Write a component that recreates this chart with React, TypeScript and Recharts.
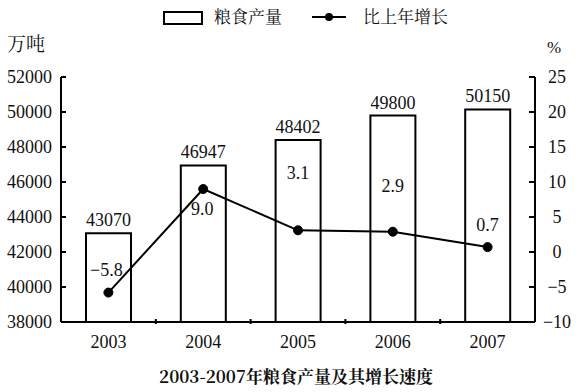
import { ComposedChart, Bar, Line, XAxis, YAxis, LabelList } from 'recharts';

const years = ['2003', '2004', '2005', '2006', '2007'];
const grainOutput = [43070, 46947, 48402, 49800, 50150];
const growthRate = [-5.8, 9.0, 3.1, 2.9, 0.7];
const leftTicks = [38000, 40000, 42000, 44000, 46000, 48000, 50000, 52000];
const rightTicks = [-10, -5, 0, 5, 10, 15, 20, 25];

// where each growth label sits relative to its point
const growthLabelShift = [
  [-2, -23],
  [-1, 20],
  [0, -57],
  [0, -46],
  [0, -22],
];

const data = years.map((year, i) => ({
  year,
  output: grainOutput[i],
  growth: growthRate[i],
}));

const W = 579;
const H = 392;
const LEFT = 61;
const RIGHT_W = 44;
const BAND = (W - LEFT - RIGHT_W) / years.length;

const numFont = 'Liberation Serif';
const cjkFont = 'Noto Serif CJK SC';

const NumText = ({ children, ...rest }: any) => (
  <text
    {...rest}
    dominantBaseline="central"
    fontFamily={numFont}
    style={{ fontFamily: `"${numFont}"` }}
    fontSize={18}
    fill="#111"
  >
    {children}
  </text>
);

const LeftTick = (props: any) => {
  const { x, y, payload } = props;
  return (
    <g>
      <line x1={x} x2={x + 5} y1={y} y2={y} stroke="#000" strokeWidth={2} />
      <NumText x={x - 9} y={y} textAnchor="end">
        {payload.value}
      </NumText>
    </g>
  );
};

const RightTick = (props: any) => {
  const { x, y, payload } = props;
  return (
    <g>
      <line x1={x - 6} x2={x} y1={y} y2={y} stroke="#000" strokeWidth={2} />
      <NumText x={x + 22} y={y} textAnchor="middle">
        {payload.value < 0 ? '\u2212' + Math.abs(payload.value) : payload.value}
      </NumText>
    </g>
  );
};

const YearTick = (props: any) => {
  const { x, y, payload, index } = props;
  return (
    <g>
      {index < years.length - 1 && (
        <line x1={x + BAND / 2} x2={x + BAND / 2} y1={y} y2={y - 5} stroke="#000" strokeWidth={2} />
      )}
      <NumText x={x} y={y + 18} textAnchor="middle">
        {payload.value}
      </NumText>
    </g>
  );
};

const OutputLabel = (props: any) => {
  const { x, y, width, value } = props;
  return (
    <NumText x={x + width / 2} y={y - 13} textAnchor="middle">
      {value}
    </NumText>
  );
};

const GrowthLabel = (props: any) => {
  const { x, y, value, index } = props;
  const [dx, dy] = growthLabelShift[index] || [0, -15];
  return (
    <NumText x={x + dx} y={y + dy} textAnchor="middle">
      {Number(value).toFixed(1).replace('-', '\u2212')}
    </NumText>
  );
};

export default function App() {
  return (
    <div
      style={{
        position: 'absolute',
        left: 0,
        top: 0,
        width: W,
        height: H,
        background: '#fff',
        fontFamily: `"${numFont}", "${cjkFont}"`,
        color: '#111',
      }}
    >
      <ComposedChart
        width={W}
        height={H}
        data={data}
        margin={{ top: 77, right: 0, bottom: 40, left: 0 }}
      >
        <XAxis
          dataKey="year"
          height={30}
          axisLine={{ stroke: '#000', strokeWidth: 2 }}
          tickLine={false}
          tickSize={0}
          tick={<YearTick />}
          interval={0}
        />
        <YAxis
          yAxisId="left"
          width={LEFT}
          domain={[38000, 52000]}
          ticks={leftTicks}
          axisLine={{ stroke: '#000', strokeWidth: 2 }}
          tickLine={false}
          tickSize={0}
          tickMargin={0}
          tick={<LeftTick />}
          interval={0}
        />
        <YAxis
          yAxisId="right"
          orientation="right"
          width={RIGHT_W}
          domain={[-10, 25]}
          ticks={rightTicks}
          axisLine={{ stroke: '#000', strokeWidth: 2 }}
          tickLine={false}
          tickSize={0}
          tickMargin={0}
          tick={<RightTick />}
          interval={0}
        />
        <Bar
          yAxisId="left"
          dataKey="output"
          name="粮食产量"
          barSize={45}
          fill="#fff"
          stroke="#000"
          strokeWidth={2}
          isAnimationActive={false}
        >
          <LabelList dataKey="output" content={<OutputLabel />} />
        </Bar>
        <Line
          yAxisId="right"
          dataKey="growth"
          name="比上年增长"
          type="linear"
          stroke="#000"
          strokeWidth={2}
          dot={{ r: 4.5, fill: '#000', stroke: '#000', strokeWidth: 1 }}
          isAnimationActive={false}
        >
          <LabelList dataKey="growth" content={<GrowthLabel />} />
        </Line>
      </ComposedChart>

      {/* legend */}
      <div style={{ position: 'absolute', left: 163, top: 11, width: 36, height: 10, border: '2px solid #000' }} />
      <div style={{ position: 'absolute', left: 214, top: 4, fontFamily: `"${cjkFont}"`, fontSize: 17, lineHeight: '24px' }}>
        粮食产量
      </div>
      <svg style={{ position: 'absolute', left: 310, top: 9 }} width={38} height={16}>
        <line x1={2} x2={36} y1={8} y2={8} stroke="#000" strokeWidth={2} />
        <circle cx={19} cy={8} r={4} fill="#000" />
      </svg>
      <div style={{ position: 'absolute', left: 363, top: 4, fontFamily: `"${cjkFont}"`, fontSize: 17, lineHeight: '24px' }}>
        比上年增长
      </div>

      {/* axis units */}
      <div style={{ position: 'absolute', left: 7, top: 31, fontFamily: `"${cjkFont}"`, fontSize: 19, lineHeight: '24px' }}>
        万吨
      </div>
      <div style={{ position: 'absolute', left: 547, top: 36, fontSize: 17, lineHeight: '24px' }}>
        %
      </div>

      {/* title */}
      <div
        style={{
          position: 'absolute',
          left: 0,
          width: 592,
          top: 364,
          textAlign: 'center',
          fontFamily: `"${cjkFont}"`,
          fontWeight: 700,
          fontSize: 17,
          lineHeight: '24px',
        }}
      >
        2003-2007年粮食产量及其增长速度
      </div>
    </div>
  );
}
